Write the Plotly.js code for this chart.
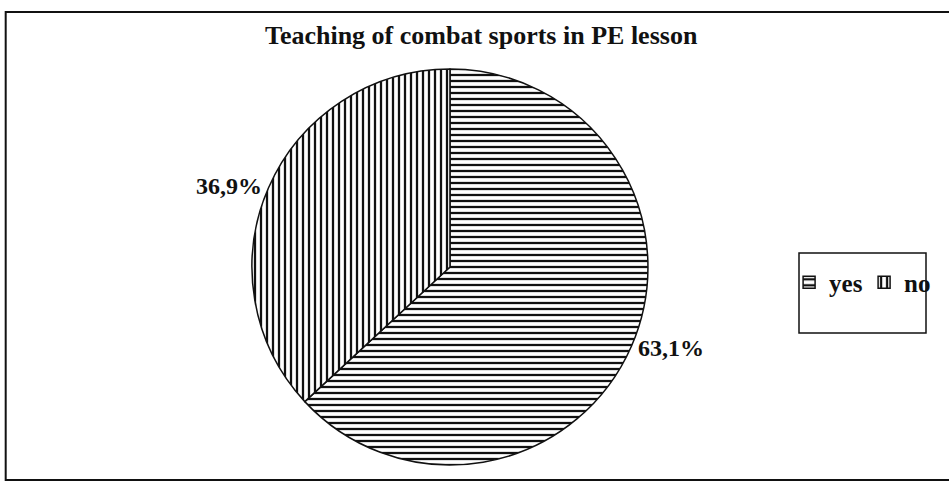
<!DOCTYPE html>
<html>
<head>
<meta charset="utf-8">
<script src="https://cdn.plot.ly/plotly-3.0.1.min.js"></script>
<style>html,body{margin:0;padding:0;background:#fff;}#chart{width:949px;height:483px;}</style>
</head>
<body>
<div id="chart"></div>
<script>
const categories = ["yes", "no"];
const values = [63.1, 36.9];
const valueLabels = ["63,1%", "36,9%"];
const patternShapes = ["-", "|"];

const serif = "Liberation Serif, Times New Roman, serif";

const trace = {
  type: "pie",
  labels: categories,
  values: values,
  text: valueLabels,
  texttemplate: "%{text}",
  textinfo: "text",
  textposition: "outside",
  sort: false,
  direction: "clockwise",
  rotation: 0,
  hoverinfo: "label+percent",
  outsidetextfont: {family: serif, size: 24, color: "#111", weight: "bold"},
  marker: {
    colors: ["#ffffff", "#ffffff"],
    line: {color: "#111", width: 1.5},
    pattern: {shape: patternShapes, size: 6, solidity: 0.38, fgcolor: "#111", bgcolor: "#ffffff", fillmode: "replace"}
  },
  domain: {x: [0.2655, 0.6828], y: [0.0373, 0.8571]}
};

const layout = {
  width: 949,
  height: 483,
  margin: {l: 0, r: 0, t: 0, b: 0},
  paper_bgcolor: "#ffffff",
  plot_bgcolor: "#ffffff",
  showlegend: true,
  title: {
    text: "Teaching of combat sports in PE lesson",
    font: {family: serif, size: 26, color: "#111", weight: "bold"},
    x: 0.507, xanchor: "center",
    y: 0.927, yref: "container", yanchor: "middle"
  },
  legend: {
    orientation: "h",
    x: 0.8315, xanchor: "left",
    y: 0.415, yanchor: "middle",
    bgcolor: "rgba(0,0,0,0)",
    font: {family: serif, size: 25, color: "#111", weight: "bold"},
    itemwidth: 30,
    entrywidth: 30
  },
  shapes: [
    {type: "rect", xref: "paper", yref: "paper", x0: 0.006, x1: 1.01, y0: 1 - 480/483, y1: 1 - 12/483,
     line: {color: "#111", width: 2}, fillcolor: "rgba(0,0,0,0)", layer: "below"},
    {type: "rect", xref: "paper", yref: "paper", x0: 799/949, x1: 926/949, y0: 1 - 333/483, y1: 1 - 253/483,
     line: {color: "#111", width: 1.5}, fillcolor: "rgba(0,0,0,0)", layer: "below"}
  ]
};

Plotly.newPlot("chart", [trace], layout, {displayModeBar: false, staticPlot: true});
</script>
</body>
</html>
